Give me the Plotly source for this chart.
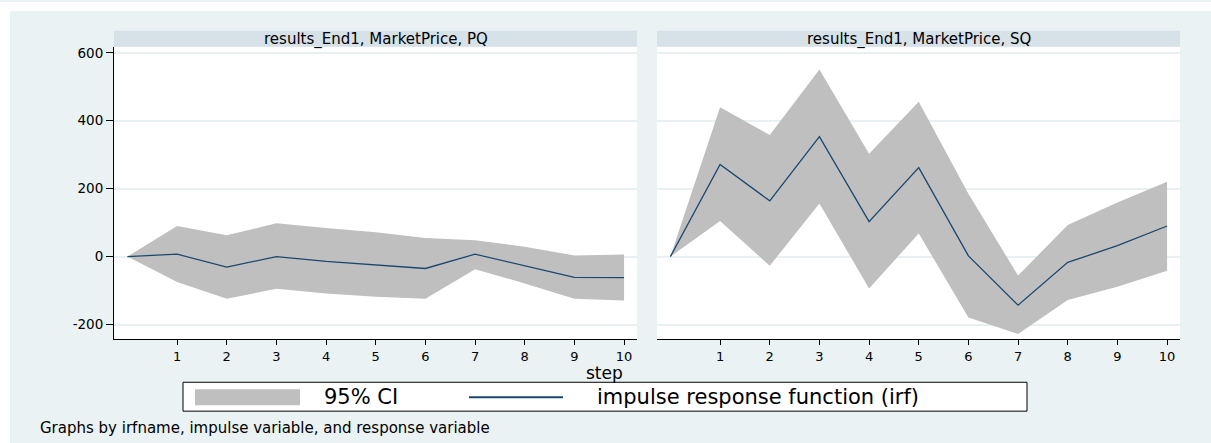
import plotly.graph_objects as go

# ---------------- data ----------------
steps = [0, 1, 2, 3, 4, 5, 6, 7, 8, 9, 10]
x_tick_vals = [1, 2, 3, 4, 5, 6, 7, 8, 9, 10]
x_tick_text = ["1", "2", "3", "4", "5", "6", "7", "8", "9", "10"]
y_tick_vals = [-200, 0, 200, 400, 600]
y_tick_text = ["-200", "0", "200", "400", "600"]

panel_titles = ["results_End1, MarketPrice, PQ", "results_End1, MarketPrice, SQ"]

pq_irf = [0, 7, -31, 0, -14, -25, -35, 7, -27, -61, -62]
pq_lo = [0, -75, -124, -95, -109, -118, -124, -37, -79, -124, -129]
pq_hi = [0, 90, 63, 98, 84, 72, 55, 48, 29, 3, 6]

sq_irf = [0, 271, 164, 353, 103, 262, 2, -143, -17, 32, 90]
sq_lo = [0, 105, -27, 156, -94, 68, -179, -228, -128, -89, -42]
sq_hi = [0, 440, 358, 551, 303, 456, 185, -56, 93, 159, 220]

legend_ci = "95% CI"
legend_irf = "impulse response function (irf)"
x_title = "step"
note = "Graphs by irfname, impulse variable, and response variable"

# ---------------- styling ----------------
W, H = 1211, 443
FONT = "DejaVu Sans"
BG = "#eaf2f3"
STRIP = "#d7e2e8"
CI = "#bfbfbf"
NAVY = "#1a476f"
GRID = "#e8f0f2"


def px(x):
    return x / W


def py(y):
    return 1 - y / H


fig = go.Figure()

panels = [
    (pq_lo, pq_hi, pq_irf, "x", "y"),
    (sq_lo, sq_hi, sq_irf, "x2", "y2"),
]
for lo, hi, irf, xa, ya in panels:
    fig.add_trace(go.Scatter(x=steps, y=lo, mode="lines", line=dict(width=0, color=CI),
                             hoverinfo="skip", showlegend=False, xaxis=xa, yaxis=ya))
    fig.add_trace(go.Scatter(x=steps, y=hi, mode="lines", line=dict(width=0, color=CI),
                             fill="tonexty", fillcolor=CI,
                             hoverinfo="skip", showlegend=False, xaxis=xa, yaxis=ya))
    fig.add_trace(go.Scatter(x=steps, y=irf, mode="lines", line=dict(width=1.3, color=NAVY),
                             showlegend=False, xaxis=xa, yaxis=ya))

x_domains = [[px(114), px(637)], [px(657), px(1180)]]
y_domain = [py(339), py(45)]
x_range = [-0.27, 10.26]
y_range = [-244, 617.6]

xcommon = dict(range=x_range, tickvals=x_tick_vals, ticktext=x_tick_text,
               showline=True, linecolor="black", linewidth=1, ticks="outside",
               ticklen=5, tickcolor="black", showgrid=False, zeroline=False,
               tickfont=dict(family=FONT, size=13, color="black"), fixedrange=True)
ycommon = dict(range=y_range, domain=y_domain, tickvals=y_tick_vals,
               showgrid=True, gridcolor=GRID, gridwidth=1.5, zeroline=False, fixedrange=True)

fig.update_layout(
    width=W, height=H, autosize=False,
    margin=dict(l=0, r=0, t=0, b=0),
    paper_bgcolor=BG, plot_bgcolor="white",
    showlegend=False,
    xaxis=dict(domain=x_domains[0], anchor="y", **xcommon),
    xaxis2=dict(domain=x_domains[1], anchor="y2", **xcommon),
    yaxis=dict(anchor="x", ticktext=y_tick_text, showline=True, linecolor="black",
               linewidth=1, ticks="outside", ticklen=7, tickcolor="black",
               tickfont=dict(family=FONT, size=13.5, color="black"), **ycommon),
    yaxis2=dict(anchor="x2", showticklabels=False, showline=False, ticks="", **ycommon),
)

shapes = [
    # white page margins at top and left
    dict(type="rect", xref="paper", yref="paper", x0=0, x1=1, y0=py(9), y1=1,
         fillcolor="white", line=dict(width=0), layer="below"),
    dict(type="rect", xref="paper", yref="paper", x0=0, x1=px(10), y0=0, y1=1,
         fillcolor="white", line=dict(width=0), layer="below"),
]
annotations = []
for (x0, x1), title in zip(x_domains, panel_titles):
    shapes.append(dict(type="rect", xref="paper", yref="paper", x0=x0, x1=x1,
                       y0=py(45), y1=py(29), fillcolor=STRIP, line=dict(width=0), layer="below"))
    annotations.append(dict(text=title, xref="paper", yref="paper", x=(x0 + x1) / 2,
                            y=py(37.5), xanchor="center", yanchor="middle", showarrow=False,
                            font=dict(family=FONT, size=15, color="black")))

# legend box (Stata style)
shapes += [
    dict(type="rect", xref="paper", yref="paper", x0=px(183), x1=px(1027), y0=py(411), y1=py(382),
         fillcolor="white", line=dict(color="black", width=1)),
    dict(type="rect", xref="paper", yref="paper", x0=px(195), x1=px(300), y0=py(405), y1=py(389),
         fillcolor=CI, line=dict(width=0)),
    dict(type="line", xref="paper", yref="paper", x0=px(469), x1=px(563), y0=py(397), y1=py(397),
         line=dict(color=NAVY, width=2)),
]
annotations += [
    dict(text=legend_ci, xref="paper", yref="paper", x=px(322), y=py(396.5), xanchor="left",
         yanchor="middle", showarrow=False, font=dict(family=FONT, size=21, color="black")),
    dict(text=legend_irf, xref="paper", yref="paper", x=px(595), y=py(396.5), xanchor="left",
         yanchor="middle", showarrow=False, font=dict(family=FONT, size=21, color="black")),
    dict(text=x_title, xref="paper", yref="paper", x=px(604), y=py(373), xanchor="center",
         yanchor="middle", showarrow=False, font=dict(family=FONT, size=17, color="black")),
    dict(text=note, xref="paper", yref="paper", x=px(38), y=py(428), xanchor="left",
         yanchor="middle", showarrow=False, font=dict(family=FONT, size=15, color="black")),
]
fig.update_layout(shapes=shapes, annotations=annotations)

fig.write_html("out.html")
